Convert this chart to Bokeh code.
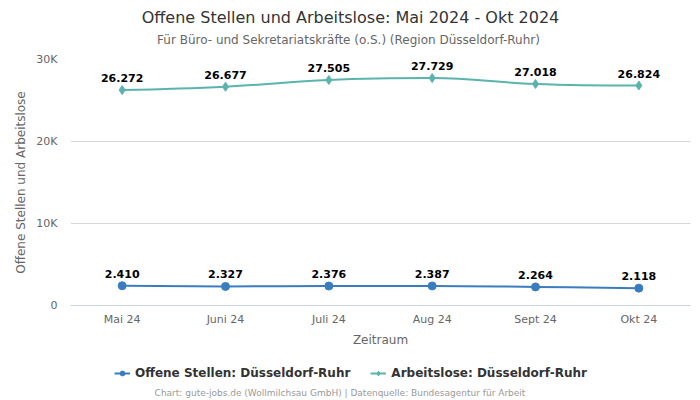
from bokeh.plotting import figure
from bokeh.models import (FixedTicker, Legend, LegendItem, ColumnDataSource, Label)
from bokeh.layouts import column
from bokeh.embed import file_html
from bokeh.resources import INLINE
from bokeh.core.properties import value

months = ["Mai 24", "Juni 24", "Juli 24", "Aug 24", "Sept 24", "Okt 24"]
offene = [2410, 2327, 2376, 2387, 2264, 2118]
arbeitslose = [26272, 26677, 27505, 27729, 27018, 26824]
y_ticks = [0, 10000, 20000, 30000]
y_tick_labels = ["0", "10K", "20K", "30K"]

FONT = "DejaVu Sans"
BLUE = "#3a7dbf"
TEAL = "#5ab4ad"


def de_fmt(v):
    return f"{v:,}".replace(",", ".")


def spline(xs, ys):
    n = len(xs)
    sm, d = 1.5, 2.5
    lc = [None] * n
    rc = [None] * n
    for i in range(1, n - 1):
        x, y = xs[i], ys[i]
        lx, ly = xs[i - 1], ys[i - 1]
        nx, ny = xs[i + 1], ys[i + 1]
        lcx = (sm * x + lx) / d
        lcy = (sm * y + ly) / d
        rcx = (sm * x + nx) / d
        rcy = (sm * y + ny) / d
        if rcx != lcx:
            corr = ((rcy - lcy) * (rcx - x)) / (rcx - lcx) + y - rcy
            lcy += corr
            rcy += corr
        if lcy > ly and lcy > y:
            lcy = max(ly, y); rcy = 2 * y - lcy
        elif lcy < ly and lcy < y:
            lcy = min(ly, y); rcy = 2 * y - lcy
        if rcy > ny and rcy > y:
            rcy = max(ny, y); lcy = 2 * y - rcy
        elif rcy < ny and rcy < y:
            rcy = min(ny, y); lcy = 2 * y - rcy
        lc[i] = (lcx, lcy)
        rc[i] = (rcx, rcy)
    seg = dict(x0=[], y0=[], x1=[], y1=[], cx0=[], cy0=[], cx1=[], cy1=[])
    for i in range(1, n):
        x0, y0 = xs[i - 1], ys[i - 1]
        x1, y1 = xs[i], ys[i]
        c0 = rc[i - 1] or (x0, y0)
        c1 = lc[i] or (x1, y1)
        seg["x0"].append(x0); seg["y0"].append(y0)
        seg["x1"].append(x1); seg["y1"].append(y1)
        seg["cx0"].append(c0[0]); seg["cy0"].append(c0[1])
        seg["cx1"].append(c1[0]); seg["cy1"].append(c1[1])
    return seg


xs = list(range(len(months)))
FRAME_LEFT = 70  # column layout aligns frames; header/footer frames start here

# ---------- header (title + subtitle) ----------
head = figure(width=700, height=50, output_backend="svg", toolbar_location=None,
              x_axis_type=None, y_axis_type=None, min_border=0,
              x_range=(0, 700), y_range=(0, 50))
head.outline_line_color = None
head.grid.visible = False
head.add_layout(Label(x=350 - FRAME_LEFT, y=33, x_units="screen", y_units="screen",
                      text="Offene Stellen und Arbeitslose: Mai 2024 - Okt 2024",
                      text_align="center", text_baseline="middle", text_font=FONT,
                      text_font_size="16px", text_color="#333333"))
head.add_layout(Label(x=348 - FRAME_LEFT, y=11, x_units="screen", y_units="screen",
                      text="Für Büro- und Sekretariatskräfte (o.S.) (Region Düsseldorf-Ruhr)",
                      text_align="center", text_baseline="middle", text_font=FONT,
                      text_font_size="12px", text_color="#666666"))

# ---------- main chart ----------
p = figure(frame_width=620, frame_height=246, output_backend="svg", toolbar_location=None,
           x_range=(-0.5, len(months) - 0.5), y_range=(0, 30000),
           min_border_left=70, min_border_right=10, min_border_top=9,
           min_border_bottom=50)
p.outline_line_color = None

p.xaxis.ticker = FixedTicker(ticks=xs)
p.xaxis.major_label_overrides = {i: m for i, m in enumerate(months)}
p.xaxis.axis_label = "Zeitraum"
p.xaxis.axis_line_color = "#ccd6eb"
p.xaxis.major_tick_line_color = None
p.xaxis.minor_tick_line_color = None
p.xaxis.major_tick_out = 0
p.xaxis.major_label_standoff = 7
p.xaxis.axis_label_standoff = 4
p.xaxis.major_label_text_font = FONT
p.xaxis.major_label_text_font_size = "11px"
p.xaxis.major_label_text_color = "#666666"
p.xaxis.axis_label_text_font = FONT
p.xaxis.axis_label_text_font_size = "12px"
p.xaxis.axis_label_text_font_style = "normal"
p.xaxis.axis_label_text_color = "#666666"

p.yaxis.ticker = FixedTicker(ticks=y_ticks)
p.yaxis.major_label_overrides = dict(zip(y_ticks, y_tick_labels))
p.yaxis.axis_label = "Offene Stellen und Arbeitslose"
p.yaxis.axis_line_color = None
p.yaxis.major_tick_line_color = None
p.yaxis.minor_tick_line_color = None
p.yaxis.major_tick_out = 0
p.yaxis.major_label_standoff = 13
p.yaxis.axis_label_standoff = 5
p.yaxis.major_label_text_font = FONT
p.yaxis.major_label_text_font_size = "11px"
p.yaxis.major_label_text_color = "#666666"
p.yaxis.axis_label_text_font = FONT
p.yaxis.axis_label_text_font_size = "12px"
p.yaxis.axis_label_text_font_style = "normal"
p.yaxis.axis_label_text_color = "#666666"

p.xgrid.grid_line_color = None
p.ygrid.grid_line_color = "#d6d6d6"
p.ygrid.grid_line_width = 1

# ---------- footer (legend + credits) ----------
foot = figure(width=700, height=45, output_backend="svg", toolbar_location=None,
              x_axis_type=None, y_axis_type=None, min_border=0,
              x_range=(-0.5, len(months) - 0.5), y_range=(0, 30000))
foot.outline_line_color = None
foot.grid.visible = False

series = [
    (offene, BLUE, "circle", "Offene Stellen: Düsseldorf-Ruhr", 8),
    (arbeitslose, TEAL, "diamond", "Arbeitslose: Düsseldorf-Ruhr", 9),
]
legend_items = []
for vals, color, marker, name, msize in series:
    seg = spline(xs, vals)
    p.bezier(x0="x0", y0="y0", x1="x1", y1="y1", cx0="cx0", cy0="cy0",
             cx1="cx1", cy1="cy1", source=ColumnDataSource(seg),
             line_color=color, line_width=2)
    src = ColumnDataSource(dict(x=xs, y=vals, lab=[de_fmt(v) for v in vals]))
    p.scatter("x", "y", source=src, marker=marker, size=msize,
              fill_color=color, line_color=color)
    p.text("x", "y", text="lab", source=src, text_align="center",
           text_baseline="bottom", y_offset=-8, text_font=value(FONT),
           text_font_size="11px", text_font_style="bold", text_color="#000000")
    # legend proxies in the footer (hidden; only their legend glyphs show)
    ln = foot.line(xs, vals, line_color=color, line_width=2, visible=False)
    sc = foot.scatter(xs, vals, marker=marker, size=msize, fill_color=color,
                      line_color=color, visible=False)
    legend_items.append(LegendItem(label=name, renderers=[ln, sc]))

legend = Legend(items=legend_items, orientation="horizontal",
                location=(114 - FRAME_LEFT, 20),
                label_text_font=FONT, label_text_font_size="12px",
                label_text_font_style="bold", label_text_color="#333333",
                glyph_width=16, glyph_height=12, label_standoff=5, spacing=20,
                border_line_color=None, background_fill_alpha=0, padding=0,
                margin=0, inactive_fill_alpha=0)
foot.add_layout(legend, "center")

foot.add_layout(Label(x=339.5 - FRAME_LEFT, y=8, x_units="screen", y_units="screen",
                      text="Chart: gute-jobs.de (Wollmilchsau GmbH) | Datenquelle: Bundesagentur für Arbeit",
                      text_align="center", text_baseline="middle", text_font=FONT,
                      text_font_size="9px", text_color="#999999"))

layout = column(head, p, foot, spacing=0)
open("out.html", "w").write(file_html(layout, INLINE))
